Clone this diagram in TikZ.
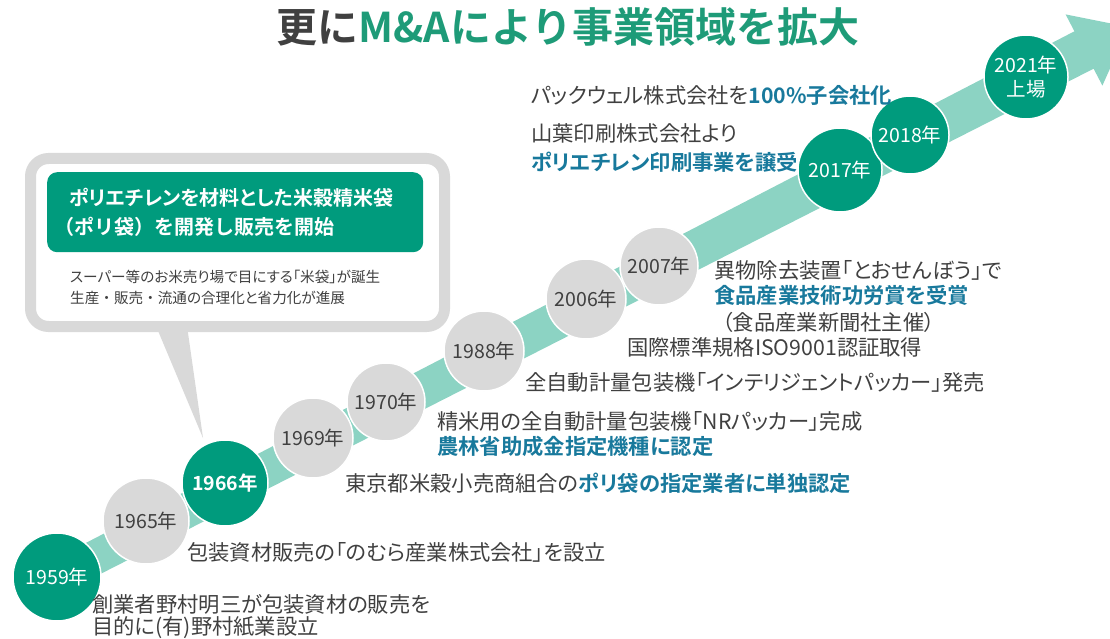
\documentclass[tikz,border=0pt]{standalone}
\usepackage{fontspec}
\setmainfont{Noto Sans CJK JP}[BoldFont={Noto Sans CJK JP Bold},RawFeature=+palt]
\newfontfamily\plainjp{Noto Sans CJK JP}[BoldFont={Noto Sans CJK JP Bold}]
\definecolor{tgreen}{HTML}{009B7D}
\definecolor{band}{HTML}{8CD3C3}
\definecolor{cgray}{HTML}{D9D9D9}
\definecolor{dtext}{HTML}{404040}
\definecolor{tblue}{HTML}{18799C}
\definecolor{titlegreen}{HTML}{1E9B78}
\begin{document}
\begin{tikzpicture}[x=1pt,y=-1pt,
  yr/.style={circle,draw=white,line width=1.5pt,inner sep=0pt,align=center,font=\plainjp\fontsize{19.5}{22}\selectfont},
  gyr/.style={yr,fill=cgray,text=dtext},
  nyr/.style={yr,fill=tgreen,text=white},
  lbl/.style={anchor=west,inner sep=0pt,text=dtext,align=left,font=\fontsize{21.3}{25}\selectfont}
]
\useasboundingbox (0,0) rectangle (1110,639);
% title
\node[inner sep=0pt,font=\plainjp\fontsize{41}{43}\selectfont\bfseries] (title) at (568,27)
  {{\color{dtext}更に}{\color{titlegreen}M\&Aにより事業領域を拡大}};
% arrow band
\begin{scope}
\clip (0,0) rectangle (1110,639);
\fill[band] (64.8,592.1) -- (49.2,561.9) -- (1074.4,31.3) -- (1065.6,14.4) -- (1128.5,27) -- (1102.4,85.6) -- (1093.6,68.7) -- cycle;
\end{scope}
% callout
\fill[cgray] (156,326) -- (187,326) -- (203,438) -- cycle;
\draw[cgray,line width=11pt,fill=white,rounded corners=18pt] (30.5,158.5) rectangle (444.5,326.5);
\node[fill=tgreen,rounded corners=10pt,minimum width=376pt,minimum height=80pt,anchor=north west,inner sep=0pt] (gbox) at (47,172) {};
\node[anchor=west,inner sep=0pt,text=white,font=\fontsize{20}{29}\selectfont\bfseries,align=left] (gtext) at (54,212)
  {\hspace{15pt}ポリエチレンを材料とした米穀精米袋\\{\plainjp\bfseries（ポリ袋）を開発し販売を開始}};
\node[anchor=west,inner sep=0pt,text=dtext,font=\fontsize{14.6}{21}\selectfont,align=left] (ctext) at (70,287)
  {スーパー等のお米売り場で目にする「米袋」が誕生\\生産{\plainjp・}販売{\plainjp・}流通の合理化と省力化が進展};
% year circles
\node[nyr,minimum size=88pt] (y1959) at (57,577) {1959年};
\node[gyr,minimum size=86pt] (y1965) at (146,521) {1965年};
\node[nyr,minimum size=86pt,font=\plainjp\fontsize{19.5}{22}\selectfont\bfseries] (y1966) at (225,483) {1966年};
\node[gyr,minimum size=80pt] (y1969) at (313,438) {1969年};
\node[gyr,minimum size=78pt] (y1970) at (386,402) {1970年};
\node[gyr,minimum size=80pt] (y1988) at (484,351) {1988年};
\node[gyr,minimum size=80pt] (y2006) at (586,299) {2006年};
\node[gyr,minimum size=78pt] (y2007) at (659,266) {2007年};
\node[nyr,minimum size=84pt] (y2017) at (840,170) {2017年};
\node[nyr,minimum size=78pt] (y2018) at (910,135) {2018年};
\node[nyr,minimum size=84pt,font=\plainjp\fontsize{19.5}{24}\selectfont] (y2021) at (1026,77) {2021年\\上場};
% labels
\node[lbl] (t1) at (531,95) {パックウェル株式会社を\textbf{\color{tblue}100\%子会社化}};
\node[lbl] (t2) at (531,133) {山葉印刷株式会社より};
\node[lbl] (t3) at (531,162) {\textbf{\color{tblue}ポリエチレン印刷事業を譲受}};
\node[lbl] (t4) at (714,270) {異物除去装置「とおせんぼう」で};
\node[lbl] (t5) at (714,295) {\textbf{\color{tblue}食品産業技術功労賞を受賞}};
\node[lbl] (t6) at (722,322) {（食品産業新聞社主催）};
\node[lbl] (t7) at (627,347) {国際標準規格ISO9001認証取得};
\node[lbl] (t8) at (525,382) {全自動計量包装機「インテリジェントパッカー」発売};
\node[lbl] (t9) at (437,421) {精米用の全自動計量包装機「NRパッカー」完成};
\node[lbl] (t10) at (437,446) {\textbf{\color{tblue}農林省助成金指定機種に認定}};
\node[lbl] (t11) at (345,483) {東京都米穀小売商組合の\textbf{\color{tblue}ポリ袋の指定業者に単独認定}};
\node[lbl] (t12) at (187,552) {包装資材販売の「のむら産業株式会社」を設立};
\node[lbl] (t13) at (92,604) {創業者野村明三が包装資材の販売を};
\node[lbl] (t14) at (92,628) {目的に(有)野村紙業設立};
\end{tikzpicture}
\end{document}
